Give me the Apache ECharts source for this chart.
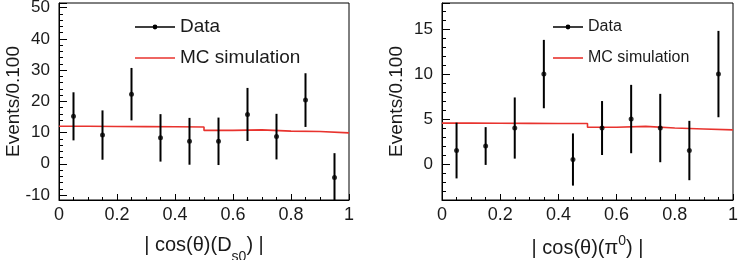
<!DOCTYPE html>
<html>
<head>
<meta charset="utf-8">
<script src="https://cdn.jsdelivr.net/npm/echarts@6/dist/echarts.min.js"></script>
<style>
  html, body { margin: 0; padding: 0; background: #fff; }
  #main { width: 741px; height: 260px; }
</style>
</head>
<body>
<div id="main"></div>
<script>
// bins of |cos(theta)|, width 0.1
const binCenters = [0.05, 0.15, 0.25, 0.35, 0.45, 0.55, 0.65, 0.75, 0.85, 0.95];
const binEdges = [0, 0.1, 0.2, 0.3, 0.4, 0.5, 0.6, 0.7, 0.8, 0.9, 1.0];

// left plot: D_s0
const dsData = [15.2, 9.2, 22.3, 8.3, 7.2, 7.2, 15.8, 8.7, 20.4, -4.4];
const dsErr = [7.7, 7.9, 8.4, 7.6, 7.5, 7.6, 8.5, 7.3, 8.6, 7.8];
const dsMC = [12.0, 11.95, 11.9, 11.85, 11.8, 10.7, 10.85, 10.45, 10.35, 9.9];

// right plot: pi0
const pi0Data = [1.5, 2.0, 4.0, 10.0, 0.5, 4.0, 5.0, 4.0, 1.5, 10.0];
const pi0Err = [3.1, 2.1, 3.4, 3.8, 2.9, 3.0, 3.8, 3.8, 3.3, 4.8];
const pi0MC = [4.55, 4.53, 4.52, 4.5, 4.5, 4.08, 4.18, 4.0, 3.9, 3.8];

const FONT = "'Liberation Sans', Arial, Helvetica, sans-serif";
const TXT = '#1a1a1a';
const RED = '#e8332e';

// legend icon: line with a dot in the middle
function dataIcon(w) {
  const c = w / 2;
  return 'path://M0,2.3H' + w + 'V3.7H0Z M' + (c - 2.4) + ',3A2.4,2.4 0 1 1 ' + (c + 2.4) +
    ',3A2.4,2.4 0 1 1 ' + (c - 2.4) + ',3Z';
}
function lineIcon(w) {
  return 'path://M0,0.6H' + w + 'V2.2H0Z';
}

// MC histogram as a step line through the bin edges
function stepData(vals) {
  const out = vals.map((v, i) => [binEdges[i], v]);
  out.push([binEdges[binEdges.length - 1], vals[vals.length - 1]]);
  return out;
}

function errBar(params, api) {
  const x = api.value(0), v = api.value(1), e = api.value(2);
  const top = api.coord([x, v + e]);
  const bot = api.coord([x, v - e]);
  const cs = params.coordSys;
  return {
    type: 'line',
    shape: {
      x1: top[0], y1: Math.max(cs.y, top[1]),
      x2: top[0], y2: Math.min(cs.y + cs.height, bot[1])
    },
    style: { stroke: '#000', lineWidth: 2 }
  };
}

function xAxis(idx, name, gap, rich) {
  return {
    type: 'value', gridIndex: idx, min: 0, max: 1, interval: 0.2,
    axisLine: { onZero: false, lineStyle: { color: '#000', width: 1 } },
    axisTick: { inside: true, length: 6, lineStyle: { color: '#000' } },
    minorTick: { show: true, splitNumber: 4, length: 3, lineStyle: { color: '#000' } },
    splitLine: { show: false },
    axisLabel: { margin: 6, fontSize: 18, color: TXT, fontFamily: FONT },
    name: name, nameLocation: 'middle', nameGap: gap, nameMoveOverlap: false,
    nameTextStyle: { fontSize: 20, color: TXT, fontFamily: FONT, rich: rich }
  };
}

function yAxis(idx, min, max, step) {
  return {
    type: 'value', gridIndex: idx, min: min, max: max,
    minInterval: step, maxInterval: step, splitNumber: 6,
    axisLine: { show: true, onZero: false, lineStyle: { color: '#000', width: 1 } },
    axisTick: { inside: true, length: 8, lineStyle: { color: '#000' } },
    minorTick: { show: true, splitNumber: 5, length: 4, lineStyle: { color: '#000' } },
    splitLine: { show: false },
    axisLabel: {
      margin: 9, fontSize: 17, color: TXT, fontFamily: FONT,
      formatter: v => (Math.abs(v / step - Math.round(v / step)) < 1e-6 ? String(Math.round(v)) : '')
    },
    name: 'Events/0.100', nameLocation: 'middle', nameGap: 36, nameRotate: 90, nameMoveOverlap: false,
    nameTextStyle: { fontSize: 19, color: TXT, fontFamily: FONT }
  };
}

const chart = echarts.init(document.getElementById('main'), null, { renderer: 'canvas' });

const option = {
  animation: false,
  backgroundColor: '#fff',
  grid: [
    { left: 59, top: 3, width: 290, height: 197, outerBoundsMode: 'none', show: true, borderColor: '#000', borderWidth: 1 },
    { left: 442, top: 3, width: 291, height: 197, outerBoundsMode: 'none', show: true, borderColor: '#000', borderWidth: 1 }
  ],
  legend: [
    {
      left: 135, top: 17, orient: 'vertical', padding: 0, itemGap: 11,
      itemWidth: 40, itemHeight: 6, itemTextGap: 8, selectedMode: false,
      textStyle: { fontSize: 19, lineHeight: 20, color: TXT, fontFamily: FONT },
      data: [
        { name: 'Data', icon: dataIcon(40), itemStyle: { color: '#000' } },
        { name: 'MC simulation', icon: lineIcon(40), itemStyle: { color: RED } }
      ]
    },
    {
      left: 553, top: 18, orient: 'vertical', padding: 0, itemGap: 13,
      itemWidth: 30, itemHeight: 6, itemTextGap: 11, selectedMode: false,
      textStyle: { fontSize: 16, lineHeight: 18, color: TXT, fontFamily: FONT },
      data: [
        { name: 'Data', icon: dataIcon(30), itemStyle: { color: '#000' } },
        { name: 'MC simulation', icon: lineIcon(30), itemStyle: { color: RED } }
      ]
    }
  ],
  xAxis: [
    xAxis(0, '| cos(θ)(D{sub|s0}) |', 26, { sub: { fontSize: 14, padding: [24, 0, 0, 0], color: TXT, fontFamily: FONT } }),
    xAxis(1, '| cos(θ)(π{sup|0}) |', 34, { sup: { fontSize: 14, padding: [0, 0, 14, 0], color: TXT, fontFamily: FONT } })
  ],
  yAxis: [
    yAxis(0, -11.6, 51.5, 10),
    yAxis(1, -4, 17.9, 5)
  ],
  series: [
    {
      name: 'MC simulation', type: 'line', xAxisIndex: 0, yAxisIndex: 0, step: 'end',
      symbol: 'none', z: 1, color: RED, lineStyle: { color: RED, width: 1.6 },
      data: stepData(dsMC)
    },
    {
      name: 'Data', type: 'custom', xAxisIndex: 0, yAxisIndex: 0, z: 2,
      renderItem: errBar, encode: { x: 0, y: 1 },
      data: binCenters.map((x, i) => [x, dsData[i], dsErr[i]])
    },
    {
      name: 'Data', type: 'scatter', xAxisIndex: 0, yAxisIndex: 0, z: 3,
      symbol: 'circle', symbolSize: 5, itemStyle: { color: '#000' },
      data: binCenters.map((x, i) => [x, dsData[i]])
    },
    {
      name: 'MC simulation', type: 'line', xAxisIndex: 1, yAxisIndex: 1, step: 'end',
      symbol: 'none', z: 1, color: RED, lineStyle: { color: RED, width: 1.6 },
      data: stepData(pi0MC)
    },
    {
      name: 'Data', type: 'custom', xAxisIndex: 1, yAxisIndex: 1, z: 2,
      renderItem: errBar, encode: { x: 0, y: 1 },
      data: binCenters.map((x, i) => [x, pi0Data[i], pi0Err[i]])
    },
    {
      name: 'Data', type: 'scatter', xAxisIndex: 1, yAxisIndex: 1, z: 3,
      symbol: 'circle', symbolSize: 5, itemStyle: { color: '#000' },
      data: binCenters.map((x, i) => [x, pi0Data[i]])
    }
  ]
};

chart.setOption(option);
</script>
</body>
</html>
